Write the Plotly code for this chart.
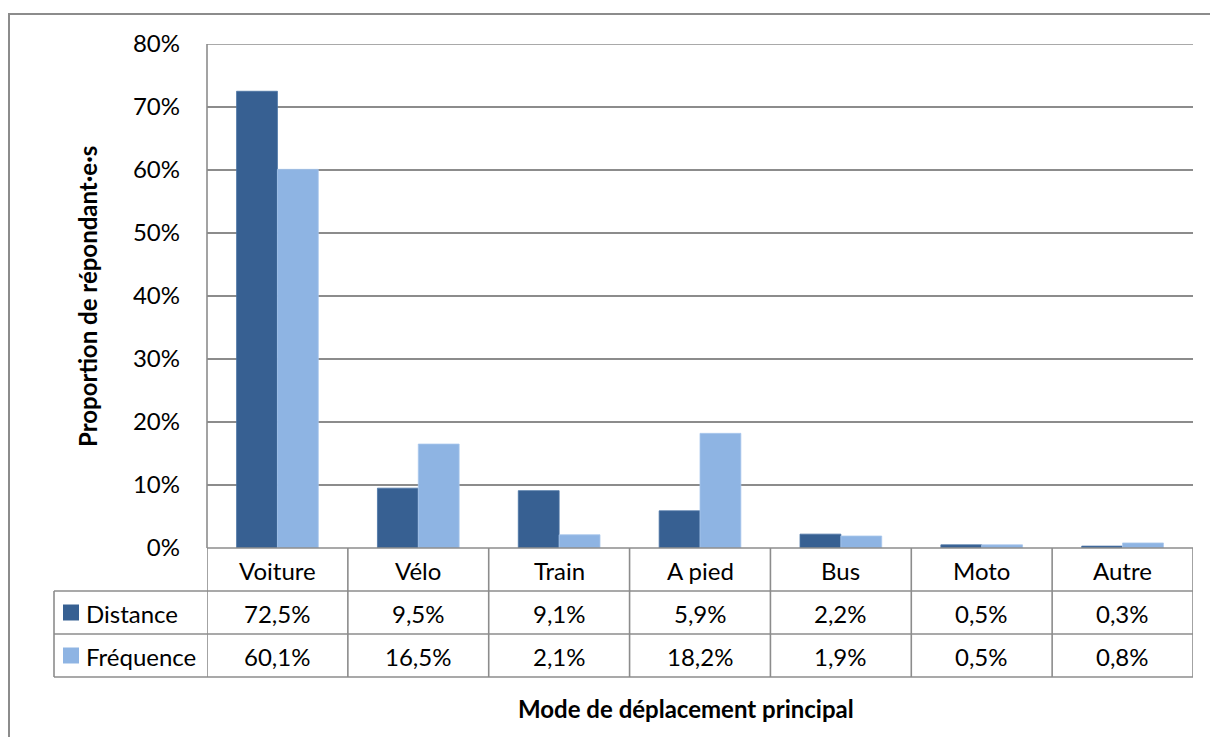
import plotly.graph_objects as go

# Survey results: main travel mode, share of respondents (%)
categories = ["Voiture", "Vélo", "Train", "A pied", "Bus", "Moto", "Autre"]
distance = [72.5, 9.5, 9.1, 5.9, 2.2, 0.5, 0.3]
frequence = [60.1, 16.5, 2.1, 18.2, 1.9, 0.5, 0.8]
series_names = ["Distance", "Fréquence"]
y_ticks = [0, 10, 20, 30, 40, 50, 60, 70, 80]
y_tick_labels = [f"{v}%" for v in y_ticks]

DARK = "#376092"
LIGHT = "#8eb4e3"
GRID = "#8c8c8c"
FONT = "Lato, 'Open Sans', sans-serif"

W, H = 1210, 737
L, R, T, B = 207, 1193, 44, 548  # plot area in pixels


def px_x(px):
    return (px - L) / (R - L)


def px_y(py):
    return (B - py) / (B - T)


def fmt(v):
    return f"{v:.1f}".replace(".", ",") + "%"


fig = go.Figure()
fig.add_bar(x=categories, y=distance, name=series_names[0],
            marker=dict(color=DARK, line=dict(color="#4a73a5", width=0.8)))
fig.add_bar(x=categories, y=frequence, name=series_names[1],
            marker=dict(color=LIGHT, line=dict(color="#a8c6ec", width=0.8)))

shapes = []
line = dict(color=GRID, width=1.6)

# outer chart frame
shapes.append(dict(type="rect", xref="paper", yref="paper",
                   x0=px_x(9), x1=px_x(1216), y0=px_y(745), y1=px_y(14),
                   line=dict(color=GRID, width=2), layer="below"))

# top gridline of the plot area
shapes.append(dict(type="line", xref="paper", yref="y",
                   x0=0, x1=1, y0=y_ticks[-1], y1=y_ticks[-1], line=line, layer="below"))

# data table below the plot
row_tops = [548, 591, 634, 677]
n = len(categories)
# horizontal rules
shapes.append(dict(type="line", xref="paper", yref="paper",
                   x0=0, x1=1, y0=px_y(row_tops[0]), y1=px_y(row_tops[0]), line=line))
for yy in row_tops[1:]:
    shapes.append(dict(type="line", xref="paper", yref="paper",
                       x0=px_x(54), x1=1, y0=px_y(yy), y1=px_y(yy), line=line))
# vertical rules between categories
for i in range(n + 1):
    shapes.append(dict(type="line", xref="x", yref="paper",
                       x0=i - 0.5, x1=i - 0.5, y0=px_y(548), y1=px_y(677), line=line))
# left edge of the series-name column and plot's left edge
shapes.append(dict(type="line", xref="paper", yref="paper",
                   x0=px_x(54), x1=px_x(54), y0=px_y(591), y1=px_y(677), line=line))
shapes.append(dict(type="line", xref="paper", yref="paper",
                   x0=0, x1=0, y0=px_y(548), y1=1, line=line))

annotations = []
cell_font = dict(family=FONT, size=24, color="#000000")
# category header row
for i, c in enumerate(categories):
    annotations.append(dict(x=i, y=px_y(570), xref="x", yref="paper", text=c,
                            showarrow=False, font=cell_font, xanchor="center", yanchor="middle"))
# value rows with legend keys
for r, (name, vals, col) in enumerate([(series_names[0], distance, DARK),
                                        (series_names[1], frequence, LIGHT)]):
    yc = (row_tops[r + 1] + row_tops[r + 2]) / 2
    shapes.append(dict(type="rect", xref="paper", yref="paper",
                       x0=px_x(63), x1=px_x(79), y0=px_y(yc + 8), y1=px_y(yc - 8),
                       fillcolor=col, line=dict(width=0)))
    annotations.append(dict(x=px_x(84), y=px_y(yc + 1), xref="paper", yref="paper", text=name,
                            showarrow=False, font=cell_font, xanchor="left", yanchor="middle"))
    for i, v in enumerate(vals):
        annotations.append(dict(x=i, y=px_y(yc + 1), xref="x", yref="paper", text=fmt(v),
                                showarrow=False, font=cell_font, xanchor="center", yanchor="middle"))

# axis titles
title_font = dict(family=FONT, size=24, color="#000000")
annotations.append(dict(x=px_x(87), y=px_y(297), xref="paper", yref="paper",
                        text="<b>Proportion de répondant·e·s</b>", textangle=-90,
                        showarrow=False, font=title_font, xanchor="center", yanchor="middle"))
annotations.append(dict(x=px_x(686), y=px_y(708), xref="paper", yref="paper",
                        text="<b>Mode de déplacement principal</b>",
                        showarrow=False, font=title_font, xanchor="center", yanchor="middle"))

fig.update_layout(
    width=W, height=H,
    margin=dict(l=L, r=W - R, t=T, b=H - B),
    paper_bgcolor="white", plot_bgcolor="white",
    barmode="group", bargap=0.42, bargroupgap=0,
    showlegend=False,
    shapes=shapes, annotations=annotations,
    font=dict(family=FONT, color="#000000"),
)
fig.update_xaxes(showticklabels=False, showgrid=False, zeroline=False, showline=False,
                 range=[-0.5, n - 0.5], fixedrange=True)
fig.update_yaxes(range=[0, 80], tickmode="array", tickvals=y_ticks, ticktext=y_tick_labels,
                 showgrid=True, gridcolor=GRID, gridwidth=1.6,
                 zeroline=False, showline=False,
                 tickfont=dict(family=FONT, size=24, color="#000000"),
                 ticks="", ticklabelstandoff=26, fixedrange=True)

fig.write_html("out.html")
